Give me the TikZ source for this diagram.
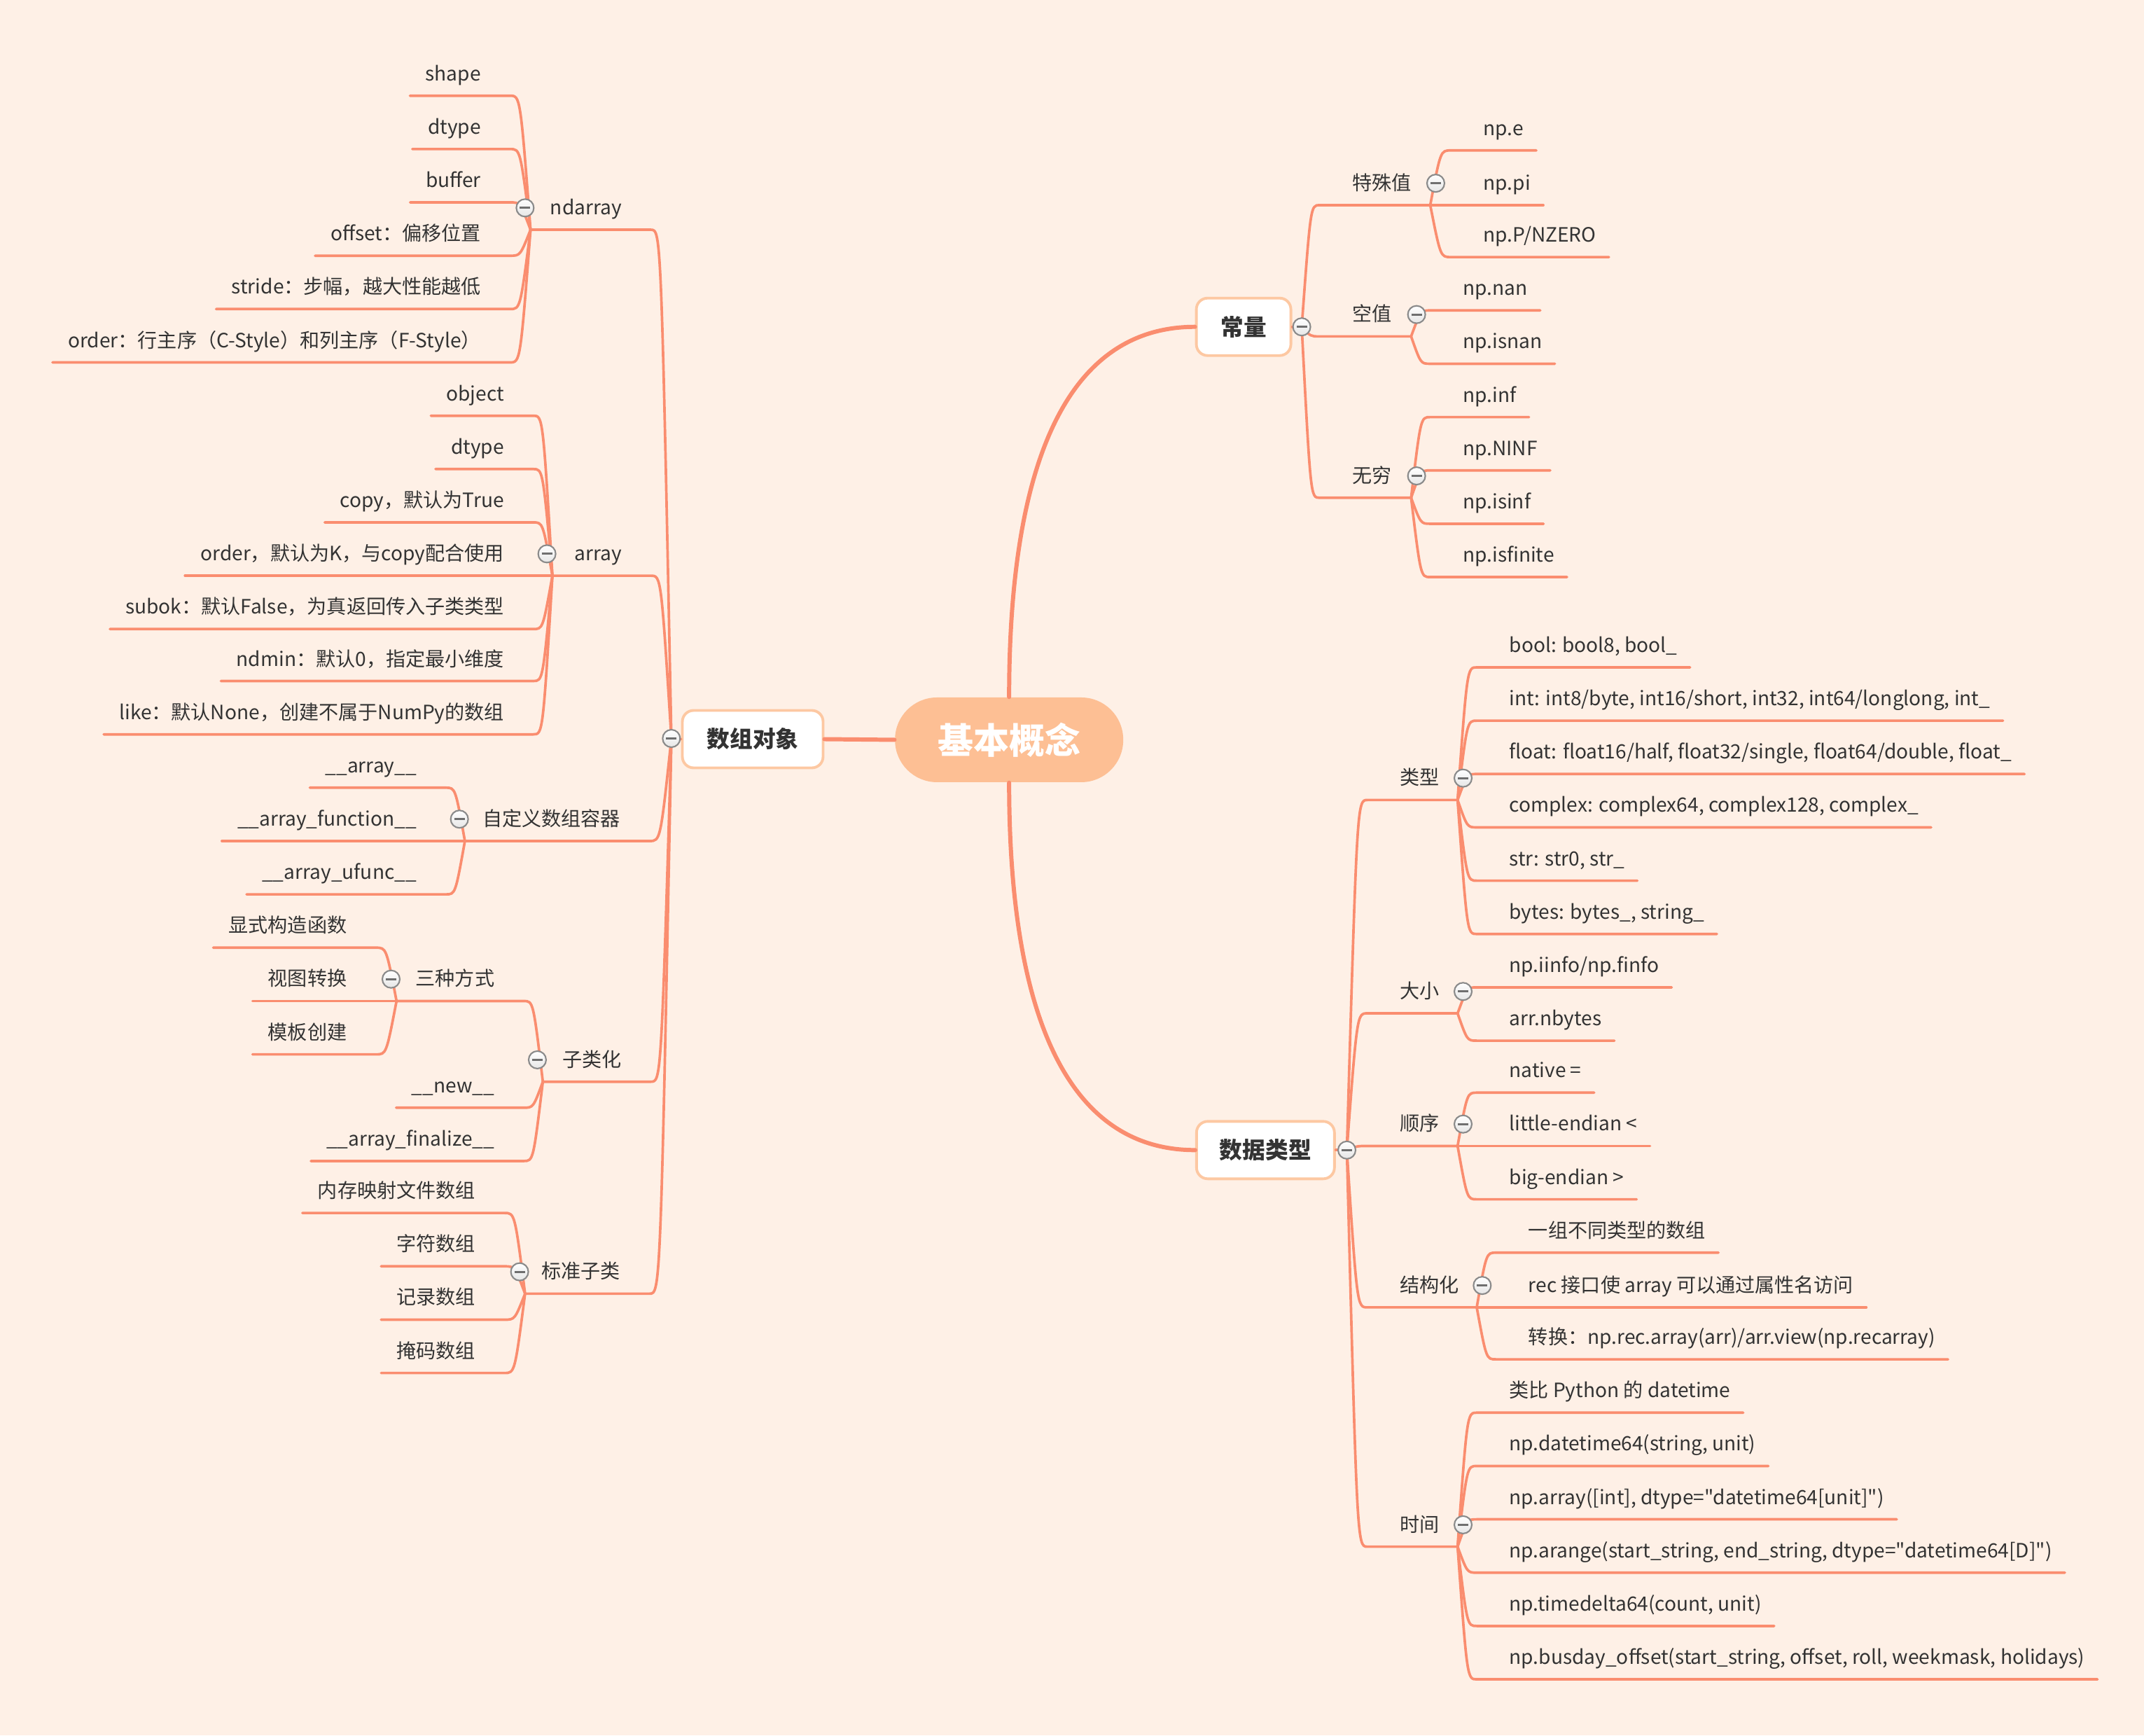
\documentclass[tikz,border=0pt]{standalone}
\usepackage{fontspec}
\setmainfont{Noto Sans CJK SC}[Ligatures=TeXOff]
\usetikzlibrary{calc}

\definecolor{bgc}{HTML}{FEF0E6}
\definecolor{lnc}{HTML}{FA8D6F}
\definecolor{pillc}{HTML}{FDBF94}
\definecolor{boxc}{HTML}{FDC8A2}
\definecolor{ink}{HTML}{333333}
\definecolor{foldc}{HTML}{8A8A8A}
\definecolor{minusc}{HTML}{6F6F6F}

\tikzset{
  txt/.style={font=\fontsize{8}{10}\selectfont, text=ink, inner sep=0pt},
  br/.style={draw=lnc, line width=1.05pt, line cap=round, line join=round},
  mainln/.style={draw=lnc, line width=1.7pt, line cap=round},
  mainbox/.style={draw=boxc, line width=1.1pt, fill=white, rounded corners=1.6mm,
    font=\fontsize{9.3}{11}\selectfont\bfseries, text=ink, inner sep=0pt,
    minimum height=0.82cm},
  pill/.style={fill=pillc, rounded corners=0.6cm, minimum width=3.26cm,
    minimum height=1.21cm, inner sep=0pt,
    font=\fontsize{14.5}{17}\selectfont\bfseries, text=white},
  fold/.style={circle, minimum size=0.25cm, inner sep=0pt, draw=foldc,
    line width=0.6pt, top color=white, bottom color=black!10,
    path picture={\draw[line width=0.8pt, draw=minusc]
      ([xshift=-0.075cm]path picture bounding box.center) --
      ([xshift=0.075cm]path picture bounding box.center);}}
}

% right-hand leaf: parent junction, name, near x, underline y, label
\newcommand\rkid[5]{%
  \coordinate (#2U) at (#3,#4);
  \node[txt,anchor=base west] (#2) at (#3+23.5,#4-11) {#5};
  \draw[br] (#1) .. controls ($(#2U)!0.5!(#1|-#2U)$) .. (#2U)
    -- ($(#2.east|-#2U)+(9,0)$);}
% left-hand leaf
\newcommand\lkid[5]{%
  \coordinate (#2U) at (#3,#4);
  \node[txt,anchor=base east] (#2) at (#3-21,#4-11) {#5};
  \draw[br] (#1) .. controls ($(#2U)!0.5!(#1|-#2U)$) .. (#2U)
    -- ($(#2.west|-#2U)+(-11,0)$);}
% right-hand topic with children: parent junction, name, near x, y, junction x, label
\newcommand\rpar[6]{%
  \coordinate (#2U) at (#3,#4);
  \coordinate (#2J) at (#5,#4);
  \node[txt,anchor=base west] (#2) at (#3+23.5,#4-11) {#6};
  \draw[br] (#1) .. controls ($(#2U)!0.5!(#1|-#2U)$) .. (#2U) -- (#2J);}
% left-hand topic with children
\newcommand\lpar[6]{%
  \coordinate (#2U) at (#3,#4);
  \coordinate (#2J) at (#5,#4);
  \node[txt,anchor=base east] (#2) at (#3-21,#4-11) {#6};
  \draw[br] (#1) .. controls ($(#2U)!0.5!(#1|-#2U)$) .. (#2U) -- (#2J);}
\newcommand\lfold[1]{\node[fold] (f#1) at ($(#1J)+(-4,-16)$) {};}
\newcommand\rfold[1]{\node[fold] (f#1) at ($(#1J)+(4,-16)$) {};}

\begin{document}
\begin{tikzpicture}[x=0.019528cm, y=-0.019528cm]
\fill[bgc] (0,0) rectangle (1568,1269);
\useasboundingbox (0,0) rectangle (1568,1269);

% central topic and the three main branches
\node[pill] (cen) at (738,541) {基本概念};
\node[mainbox, minimum width=2.01cm] (arr) at (550.5,540.5) {数组对象};
\node[mainbox, minimum width=1.35cm] (cst) at (909.5,239) {常量};
\node[mainbox, minimum width=1.97cm] (dtp) at (925.5,841) {数据类型};

\draw[mainln] (cen.west) -- (arr.east);
\draw[mainln] (cen.north) .. controls (738,329) and (785,239) .. (cst.west);
\draw[mainln] (cen.south) .. controls (738,751) and (785,841) .. (dtp.west);

\coordinate (JL) at (491,540);
\coordinate (JC) at (952,239);
\coordinate (JD) at (985,841);
\draw[br] (arr.west) -- (JL);
\draw[br] (cst.east) -- (JC);
\draw[br] (dtp.east) -- (JD);

% ---------- 数组对象 ----------
\lpar{JL}{nd}{476}{168}{388}{ndarray}
\lkid{ndJ}{ndA}{373}{70}{shape}
\lkid{ndJ}{ndB}{373}{109}{dtype}
\lkid{ndJ}{ndC}{373}{148}{buffer}
\lkid{ndJ}{ndD}{373}{187}{offset：偏移位置}
\lkid{ndJ}{ndE}{373}{226}{stride：步幅，越大性能越低}
\lkid{ndJ}{ndF}{373}{265}{order：行主序（C-Style）和列主序（F-Style）}

\lpar{JL}{ar}{476}{421}{404}{array}
\lkid{arJ}{arA}{390}{304}{object}
\lkid{arJ}{arB}{390}{343}{dtype}
\lkid{arJ}{arC}{390}{382}{copy，默认为True}
\lkid{arJ}{arD}{390}{421}{order，默认为K，与copy配合使用}
\lkid{arJ}{arE}{390}{460}{subok：默认False，为真返回传入子类类型}
\lkid{arJ}{arF}{390}{498}{ndmin：默认0，指定最小维度}
\lkid{arJ}{arG}{390}{537}{like：默认None，创建不属于NumPy的数组}

\lpar{JL}{cu}{475}{615}{340}{自定义数组容器}
\lkid{cuJ}{cuA}{326}{576}{\_\_array\_\_}
\lkid{cuJ}{cuB}{326}{615}{\_\_array\_function\_\_}
\lkid{cuJ}{cuC}{326}{654}{\_\_array\_ufunc\_\_}

\lpar{JL}{sc}{476}{791}{397}{子类化}
\lpar{scJ}{sf}{383}{732}{290}{三种方式}
\lkid{sfJ}{sfA}{275}{693}{显式构造函数}
\lkid{sfJ}{sfB}{275}{732}{视图转换}
\lkid{sfJ}{sfC}{275}{771}{模板创建}
\lkid{scJ}{scB}{383}{810}{\_\_new\_\_}
\lkid{scJ}{scC}{383}{849}{\_\_array\_finalize\_\_}

\lpar{JL}{ss}{475}{946}{384}{标准子类}
\lkid{ssJ}{ssA}{369}{887}{内存映射文件数组}
\lkid{ssJ}{ssB}{369}{926}{字符数组}
\lkid{ssJ}{ssC}{369}{965}{记录数组}
\lkid{ssJ}{ssD}{369}{1004}{掩码数组}

% ---------- 常量 ----------
\rpar{JC}{ts}{965}{150}{1046}{特殊值}
\rkid{tsJ}{tsA}{1061}{110}{np.e}
\rkid{tsJ}{tsB}{1061}{150}{np.pi}
\rkid{tsJ}{tsC}{1061}{188}{np.P/NZERO}

\rpar{JC}{kz}{965}{246}{1032}{空值}
\rkid{kzJ}{kzA}{1046}{227}{np.nan}
\rkid{kzJ}{kzB}{1046}{266}{np.isnan}

\rpar{JC}{wq}{965}{364}{1032}{无穷}
\rkid{wqJ}{wqA}{1046}{305}{np.inf}
\rkid{wqJ}{wqB}{1046}{344}{np.NINF}
\rkid{wqJ}{wqC}{1046}{383}{np.isinf}
\rkid{wqJ}{wqD}{1046}{422}{np.isfinite}

% ---------- 数据类型 ----------
\rpar{JD}{lx}{1000}{585}{1066}{类型}
\rkid{lxJ}{lxA}{1080}{488}{bool: bool8, bool\_}
\rkid{lxJ}{lxB}{1080}{527}{int: int8/byte, int16/short, int32, int64/longlong, int\_}
\rkid{lxJ}{lxC}{1080}{566}{float: float16/half, float32/single, float64/double, float\_}
\rkid{lxJ}{lxD}{1080}{605}{complex: complex64, complex128, complex\_}
\rkid{lxJ}{lxE}{1080}{644}{str: str0, str\_}
\rkid{lxJ}{lxF}{1080}{683}{bytes: bytes\_, string\_}

\rpar{JD}{dx}{1000}{741}{1066}{大小}
\rkid{dxJ}{dxA}{1080}{722}{np.iinfo/np.finfo}
\rkid{dxJ}{dxB}{1080}{761}{arr.nbytes}

\rpar{JD}{sx}{1000}{838}{1066}{顺序}
\rkid{sxJ}{sxA}{1080}{799}{native =}
\rkid{sxJ}{sxB}{1080}{838}{little-endian <}
\rkid{sxJ}{sxC}{1080}{877}{big-endian >}

\rpar{JD}{jg}{1000}{956}{1080}{结构化}
\rkid{jgJ}{jgA}{1094}{916}{一组不同类型的数组}
\rkid{jgJ}{jgB}{1094}{956}{rec 接口使 array 可以通过属性名访问}
\rkid{jgJ}{jgC}{1094}{994}{转换：np.rec.array(arr)/arr.view(np.recarray)}

\rpar{JD}{sj}{1000}{1131}{1066}{时间}
\rkid{sjJ}{sjA}{1080}{1033}{类比 Python 的 datetime}
\rkid{sjJ}{sjB}{1080}{1072}{np.datetime64(string, unit)}
\rkid{sjJ}{sjC}{1080}{1111}{np.array([int], dtype="datetime64[unit]")}
\rkid{sjJ}{sjD}{1080}{1150}{np.arange(start\_string, end\_string, dtype="datetime64[D]")}
\rkid{sjJ}{sjE}{1080}{1189}{np.timedelta64(count, unit)}
\rkid{sjJ}{sjF}{1080}{1228}{np.busday\_offset(start\_string, offset, roll, weekmask, holidays)}

% ---------- collapse markers ----------
\node[fold] (fJL) at (JL) {};
\node[fold] (fJC) at (JC) {};
\node[fold] (fJD) at (JD) {};
\lfold{nd} \lfold{ar} \lfold{cu} \lfold{sc} \lfold{sf} \lfold{ss}
\rfold{ts} \rfold{kz} \rfold{wq}
\rfold{lx} \rfold{dx} \rfold{sx} \rfold{jg} \rfold{sj}
\end{tikzpicture}
\end{document}
